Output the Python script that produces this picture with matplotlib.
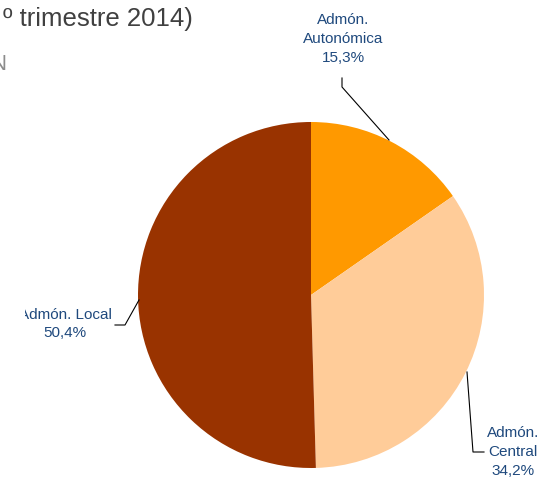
import matplotlib
matplotlib.use("Agg")
import matplotlib.pyplot as plt
from matplotlib.transforms import Bbox, TransformedBbox

categories = ["Admón.\nAutonómica", "Admón.\nCentral", "Admón. Local"]
values = [15.3, 34.2, 50.4]
colors = ["#FF9900", "#FFCC99", "#993300"]
title_text = "º trimestre 2014)"
subtitle_text = "N"

plt.rcParams['font.family'] = ['Liberation Sans', 'DejaVu Sans']

W, H = 545, 482
fig = plt.figure(figsize=(W / 100, H / 100), dpi=100)
fig.patch.set_facecolor("white")

cx, cy, r = 311, 295, 173
ax = fig.add_axes([(cx - r) / W, (H - cy - r) / H, 2 * r / W, 2 * r / H])
ax.pie(values, colors=colors, startangle=90, counterclock=False, radius=1.0,
       wedgeprops=dict(linewidth=0))
ax.set_xlim(-1, 1)
ax.set_ylim(-1, 1)
ax.set_aspect("equal")
ax.axis("off")

def d(px, py):
    return ((px - cx) / r, (cy - py) / r)

lab_col = "#1F497D"
fs = 11
ls = 1.42
pcts = [f"{v:.1f}".replace(".", ",") + "%" for v in values]

# Autonómica
x, y = d(343, 39)
ax.text(x, y, f"{categories[0]}\n{pcts[0]}", ha="center", va="center", color=lab_col,
        fontsize=fs, linespacing=ls, clip_on=False)
pts = [d(342, 78), d(342, 87), d(389, 140)]
ax.plot([p[0] for p in pts], [p[1] for p in pts], color="black", lw=0.8, clip_on=False)

# Central
x, y = d(513, 452)
ax.text(x, y, f"{categories[1]}\n{pcts[1]}", ha="center", va="center", color=lab_col,
        fontsize=fs, linespacing=ls, clip_on=False)
pts = [d(467, 372), d(473, 452), d(484, 452)]
ax.plot([p[0] for p in pts], [p[1] for p in pts], color="black", lw=0.8, clip_on=False)

# Local (clipped at left like the reference)
x, y = d(65, 324)
t = ax.text(x, y, f"{categories[2]}\n{pcts[2]}", ha="center", va="center", color=lab_col,
            fontsize=fs, linespacing=ls)
t.set_clip_box(TransformedBbox(Bbox([[25 / W, 0], [1, 1]]), fig.transFigure))
t.set_clip_on(True)
pts = [d(115, 325), d(125, 325), d(139, 300)]
ax.plot([p[0] for p in pts], [p[1] for p in pts], color="black", lw=0.8, clip_on=False)

fig.text(193 / W, 1 - 26 / H, title_text, ha="right", va="baseline", fontsize=18.5, color="#404040")
fig.text(6 / W, 1 - 70 / H, subtitle_text, ha="right", va="baseline", fontsize=16, color="#8C8C8C")

fig.savefig("out.png", dpi=100, facecolor="white")
